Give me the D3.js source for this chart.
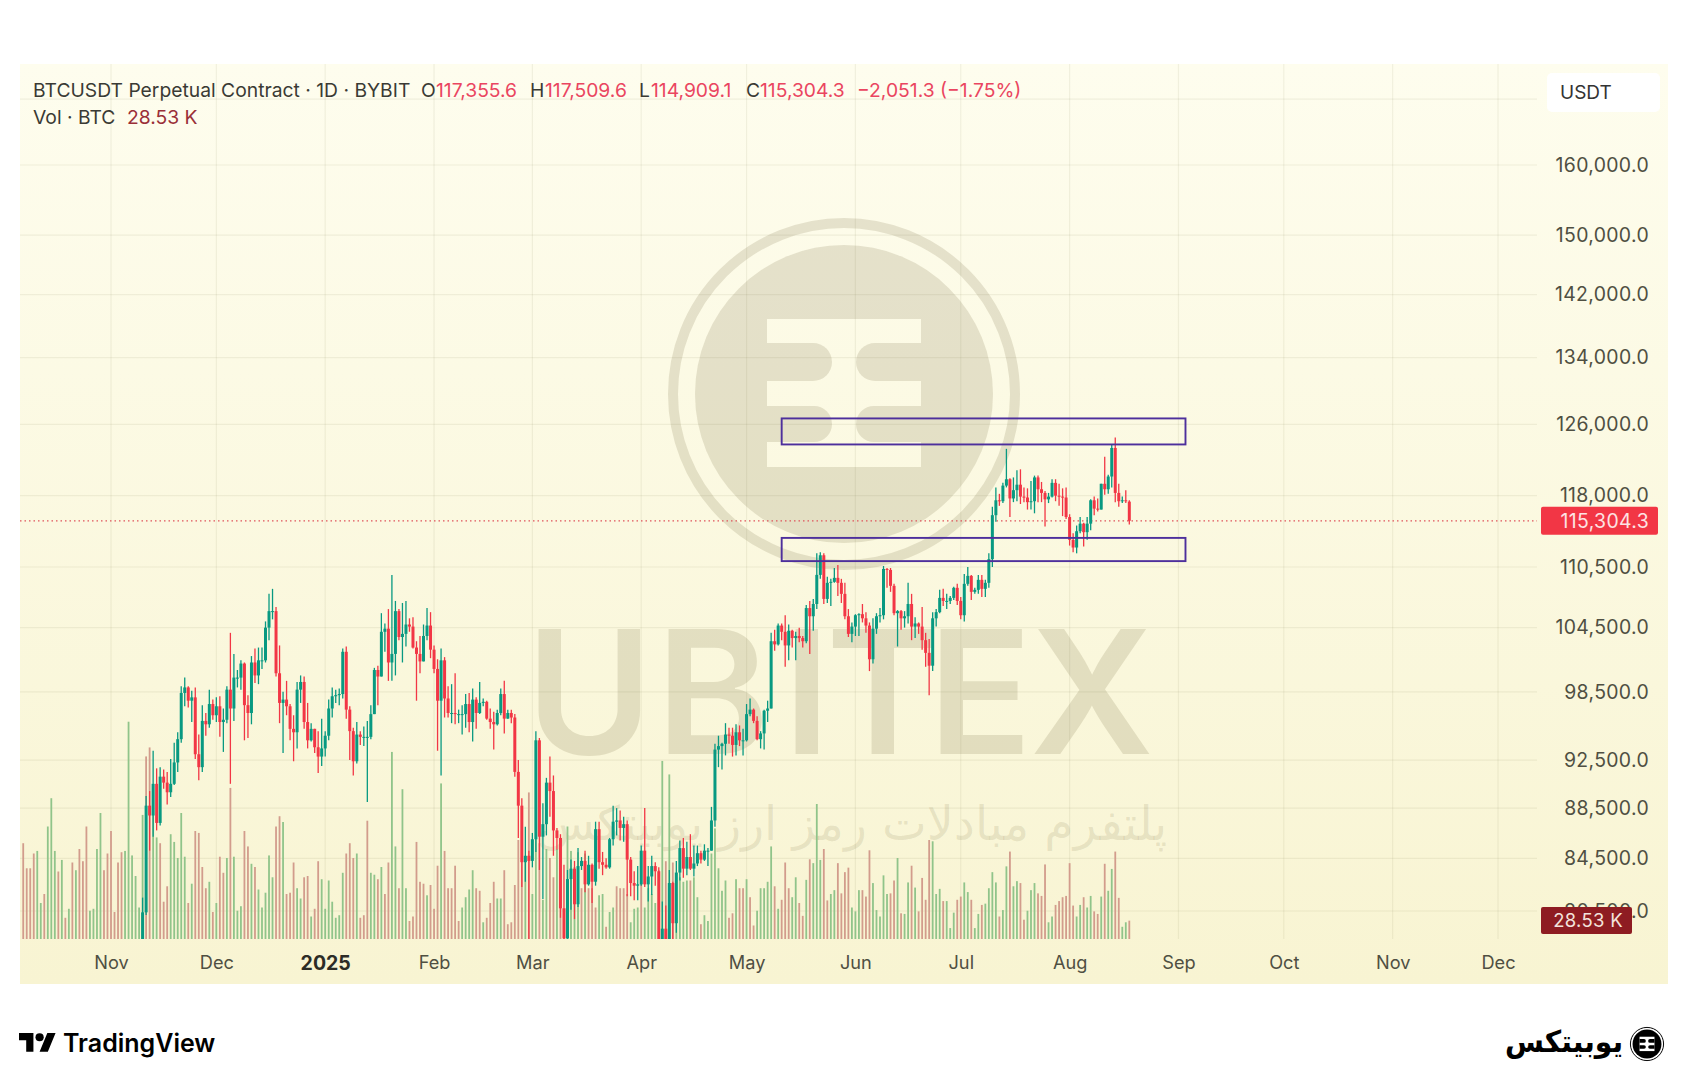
<!DOCTYPE html>
<html>
<head>
<meta charset="utf-8">
<script src="https://cdn.jsdelivr.net/npm/d3@7"></script>
<style>
html, body { margin: 0; padding: 0; background: #fff; }
svg { display: block; }
text { font-family: Inter, "Liberation Sans", sans-serif; }
</style>
</head>
<body>
<script>
// daily candles from 2024-11-10, prices in thousands of USDT
const firstCandle = new Date(Date.UTC(2024, 10, 10));
const opens = [
 76.7,80.4,88.7,87.9,90.5,87.3,91.1,90.6,89.8,90.5,92.3,94.3,98.4,98.9,97.7,98.0,93.0,91.9,95.9,95.6,97.4,
 96.4,97.2,95.8,96.0,98.7,97.0,99.8,99.8,101.1,97.3,96.6,101.2,100.0,101.4,101.4,104.5,106.1,106.1,100.2,97.5,97.8,97.2,95.2,94.9,98.7,99.4,95.8,94.2,95.2,93.6,92.8,
 93.5,94.6,97.0,98.1,98.2,98.3,102.2,96.9,95.0,92.4,94.7,94.5,94.5,94.5,96.5,100.5,99.9,104.1,104.4,101.2,102.0,106.1,103.6,103.9,104.8,104.6,102.6,102.0,101.3,103.7,104.7,
 102.4,100.6,97.7,101.4,97.9,96.6,96.6,96.5,96.5,96.5,97.4,95.8,97.8,96.6,97.5,97.6,96.1,95.8,95.6,96.6,98.3,96.1,96.6,96.2,91.5,88.7,84.2,84.7,
 84.3,86.0,94.2,86.2,87.2,90.6,89.9,86.7,86.1,80.7,78.5,82.9,83.7,81.0,83.9,84.3,82.5,84.0,82.7,86.8,84.2,84.0,83.8,86.0,87.4,87.5,86.9,87.2,84.4,82.6,82.4,
 82.5,85.1,82.5,83.1,83.9,83.5,78.4,79.2,76.3,82.6,79.6,83.4,85.3,83.7,84.6,83.7,84.1,84.9,84.4,85.1,85.1,87.5,93.4,93.7,93.9,94.7,94.6,93.8,94.9,94.2,
 94.2,96.5,96.9,95.9,94.3,94.8,96.8,97.0,103.2,102.9,104.7,104.1,102.8,104.2,103.5,103.7,103.5,103.2,106.4,105.6,106.8,109.7,111.7,107.3,108.9,109.0,109.4,108.9,107.8,105.6,103.9,
 104.6,105.7,105.8,105.4,104.7,101.5,104.4,105.6,105.7,110.3,110.2,108.6,105.9,106.1,105.4,105.6,106.8,104.6,104.9,104.6,103.3,102.1,100.9,105.4,106.0,107.4,107.1,107.1,107.4,108.4,
 107.1,105.7,108.8,109.6,108.0,108.2,109.2,108.3,108.9,111.3,115.9,117.5,117.4,119.1,119.8,117.7,118.6,119.2,117.9,117.8,117.3,117.4,120.0,118.7,118.3,117.6,117.9,119.4,118.0,117.9,117.8,
 115.7,113.3,112.5,114.2,115.0,114.1,115.0,117.5,116.6,116.5,119.3,118.7,120.1,123.3,118.3,117.4,117.5,117.356];
const highs = [
 81.5,89.5,89.9,93.3,91.8,91.9,91.7,91.5,92.6,94.0,94.9,99.0,99.8,99.0,98.6,98.9,94.7,97.3,96.6,98.7,97.8,
 98.0,98.1,97.0,99.0,104.0,102.0,100.5,101.4,101.2,98.2,101.8,102.5,102.6,102.6,105.1,107.8,108.3,106.5,102.8,98.5,99.5,97.4,96.4,99.4,100.0,99.9,97.5,95.7,95.2,95.0,96.1,
 95.0,97.8,98.9,98.7,98.8,102.5,102.7,97.2,95.3,95.8,95.0,95.4,95.9,97.3,100.7,100.9,105.9,104.9,106.3,109.7,107.1,106.3,106.9,107.1,105.4,105.5,103.2,103.7,104.8,106.4,106.0,
 102.8,101.5,102.5,101.7,99.0,99.2,100.2,96.9,97.3,98.3,98.4,98.8,98.0,99.4,97.9,97.7,97.0,96.7,96.9,98.8,99.5,96.9,96.9,96.5,92.5,89.3,87.0,85.1,
 86.5,95.0,94.4,88.9,91.0,92.8,91.2,86.9,86.4,84.0,83.6,84.4,84.3,85.3,84.6,85.1,84.7,84.1,87.4,87.4,85.0,84.5,86.1,88.7,88.5,88.3,87.8,87.5,84.6,83.5,83.9,
 85.5,88.5,83.9,84.7,84.2,83.8,81.2,80.9,83.6,82.7,84.3,85.9,86.1,85.8,86.4,85.5,85.5,85.1,85.6,85.3,88.6,93.9,94.6,94.0,95.7,95.3,95.3,95.6,95.5,95.2,
 97.4,97.9,97.0,96.3,95.0,96.9,97.7,104.0,104.3,104.9,104.9,105.7,104.8,104.3,104.1,104.5,103.7,106.7,107.1,107.3,111.9,112.0,111.9,109.5,109.3,110.4,110.7,109.3,108.9,106.3,105.0,
 105.8,105.9,106.8,106.0,105.0,105.4,105.9,106.4,110.6,110.4,110.4,108.8,106.2,106.2,106.1,108.9,107.8,105.5,105.0,106.5,104.0,103.4,106.0,106.3,108.2,108.3,107.8,107.6,108.5,108.8,
 107.5,109.8,110.5,109.7,108.4,109.7,109.7,109.2,111.9,116.8,118.9,118.2,119.4,123.2,119.9,120.0,120.8,120.9,118.9,118.8,119.6,120.2,120.2,119.5,118.5,118.3,119.8,119.8,119.3,118.8,118.9,
 116.0,114.0,114.8,115.7,115.1,115.7,117.6,117.9,117.7,119.3,122.3,120.3,123.7,124.5,119.3,117.9,118.6,117.51];
const lows = [
 76.5,80.2,85.1,86.2,86.7,87.1,90.1,88.8,89.4,90.4,91.5,94.0,97.2,97.1,95.8,92.6,90.8,91.5,94.6,95.3,96.0,
 95.8,94.5,93.2,95.7,90.5,95.9,98.9,98.7,94.2,94.4,95.6,99.3,99.2,100.6,101.2,103.3,105.3,99.9,95.7,93.1,96.4,94.2,92.4,93.5,97.5,95.2,93.5,94.1,93.1,91.4,92.0,
 92.8,94.2,96.2,97.5,97.3,97.9,96.1,92.5,91.2,92.2,93.8,93.7,89.0,94.3,96.5,97.3,99.9,102.2,99.5,99.5,100.0,103.3,101.2,102.7,104.1,102.5,97.7,100.2,101.3,103.3,101.6,
 100.2,93.3,91.2,96.2,96.2,95.7,95.6,95.7,94.7,95.3,94.9,94.1,95.2,96.5,97.2,96.0,95.2,93.4,95.5,96.4,94.8,96.1,95.7,91.1,86.1,82.3,82.7,78.2,
 83.8,85.0,83.6,81.4,86.3,87.8,84.7,85.2,80.0,77.5,76.6,80.6,79.9,80.8,83.6,81.9,82.4,81.1,82.4,83.7,83.2,83.7,83.7,85.5,86.3,85.9,85.8,81.6,81.6,81.3,81.3,
 82.4,82.3,81.2,81.7,82.4,77.1,74.4,76.2,74.6,78.4,78.9,82.8,83.0,83.2,83.6,83.1,83.9,84.1,84.3,83.9,85.1,87.0,91.9,91.7,92.9,93.9,92.8,92.9,93.7,92.9,
 94.1,96.3,95.7,94.2,93.5,93.4,95.8,97.0,102.3,102.8,103.3,100.8,101.4,102.6,101.4,103.1,102.6,103.0,102.0,104.2,106.3,109.3,106.8,106.9,106.6,108.9,107.6,106.9,105.3,103.6,103.1,
 103.7,103.7,105.0,104.0,100.4,101.1,103.9,105.0,105.3,108.4,108.0,105.7,102.7,104.3,104.5,104.9,103.3,103.5,103.9,102.4,100.8,98.2,100.4,104.6,105.9,106.6,106.3,106.8,107.2,106.7,
 105.3,105.1,108.6,107.2,107.8,107.8,107.5,107.5,108.4,110.5,115.2,116.9,117.2,118.9,115.7,117.3,117.4,117.1,117.3,116.5,116.5,116.1,117.3,117.3,114.7,117.2,117.8,117.4,116.9,115.8,115.5,
 112.7,112.0,111.9,114.0,112.6,113.3,114.3,115.9,116.3,116.5,118.1,118.2,118.9,117.3,116.8,117.2,117.2,114.909];
const closes = [
 80.4,88.7,87.9,90.5,87.3,91.1,90.6,89.8,90.5,92.3,94.3,98.4,98.9,97.7,98.0,93.0,91.9,95.9,95.6,97.4,96.4,
 97.2,95.8,96.0,98.7,97.0,99.8,99.8,101.1,97.3,96.6,101.2,100.0,101.4,101.4,104.5,106.1,106.1,100.2,97.5,97.8,97.2,95.2,94.9,98.7,99.4,95.8,94.2,95.2,93.6,92.8,93.5,
 94.6,97.0,98.1,98.2,98.3,102.2,96.9,95.0,92.4,94.7,94.5,94.5,94.5,96.5,100.5,99.9,104.1,104.4,101.2,102.0,106.1,103.6,103.9,104.8,104.6,102.6,102.0,101.3,103.7,104.7,102.4,
 100.6,97.7,101.4,97.9,96.6,96.6,96.5,96.5,96.5,97.4,95.8,97.8,96.6,97.5,97.6,96.1,95.8,95.6,96.6,98.3,96.1,96.6,96.2,91.5,88.7,84.2,84.7,84.3,
 86.0,94.2,86.2,87.2,90.6,89.9,86.7,86.1,80.7,78.5,82.9,83.7,81.0,83.9,84.3,82.5,84.0,82.7,86.8,84.2,84.0,83.8,86.0,87.4,87.5,86.9,87.2,84.4,82.6,82.4,82.5,
 85.1,82.5,83.1,83.9,83.5,78.4,79.2,76.3,82.6,79.6,83.4,85.3,83.7,84.6,83.7,84.1,84.9,84.4,85.1,85.1,87.5,93.4,93.7,93.9,94.7,94.6,93.8,94.9,94.2,94.2,
 96.5,96.9,95.9,94.3,94.8,96.8,97.0,103.2,102.9,104.7,104.1,102.8,104.2,103.5,103.7,103.5,103.2,106.4,105.6,106.8,109.7,111.7,107.3,108.9,109.0,109.4,108.9,107.8,105.6,103.9,104.6,
 105.7,105.8,105.4,104.7,101.5,104.4,105.6,105.7,110.3,110.2,108.6,105.9,106.1,105.4,105.6,106.8,104.6,104.9,104.6,103.3,102.1,100.9,105.4,106.0,107.4,107.1,107.1,107.4,108.4,107.1,
 105.7,108.8,109.6,108.0,108.2,109.2,108.3,108.9,111.3,115.9,117.5,117.4,119.1,119.8,117.7,118.6,119.2,117.9,117.8,117.3,117.4,120.0,118.7,118.3,117.6,117.9,119.4,118.0,117.9,117.8,115.7,
 113.3,112.5,114.2,115.0,114.1,115.0,117.5,116.6,116.5,119.3,118.7,120.1,123.3,118.3,117.4,117.5,117.4,115.304];

// daily volume from 2024-10-07, thousands of BTC, u = green bar, d = red bar
const firstVolume = new Date(Date.UTC(2024, 9, 7));
const volumes = [
 149,110,110,133,137,56,70,175,219,137,105,123,33,47,119,107,140,121,175,44,47,140,196,107,133,168,42,119,135,137,338,130,98,49,193,284,298,233,158,149,
 58,82,163,151,126,196,128,56,86,168,165,112,79,89,42,56,128,103,126,235,128,44,51,168,144,117,112,77,49,72,130,96,175,191,182,70,72,119,79,63,96,98,35,47,121,93,47,91,58,33,37,103,133,149,126,133,33,37,184,103,100,93,112,70,119,291,144,79,233,79,28,35,151,
 89,86,68,84,47,114,242,137,79,79,114,28,49,65,77,107,79,75,26,33,56,89,63,63,107,23,26,84,154,168,121,228,70,158,149,61,140,126,96,140,144,44,175,137,112,135,79,133,79,79,49,68,70,19,42,49,82,79,79,70,26,47,49,133,49,79,70,56,107,277,121,256,119,70,96,89,91,91,96,65,23,37,28,133,172,110,75,91,33,40,93,79,79,93,65,21,44,79,79,89,144,82,47,61,119,79,65,96,56,
 36,92,124,118,210,123,140,60,70,76,118,71,104,111,49,43,76,76,66,138,87,45,35,99,70,71,91,126,40,39,88,114,80,43,95,61,154,152,70,78,59,59,17,41,61,66,88,73,61,17,39,53,55,79,104,88,35,45,113,136,82,90,87,30,44,76,87,71,67,116,26,35,53,59,65,67,118,52,35,53,65,49,67,43,39,66,117,75,109,136,64,19,26,28.53];
const volumeDirs = ("dddduuduuu" + "dudududddu" + "uuuddddddu" + "uuuuudduud" + "dduuuuudud" + "dddududdud" + "uuudduduuu" + "uudduddduu" + "ddudduuuuu" + "uudddudddu" + "ududduuduu"
 + "dddddudddu" + "ddddduuuud" + "duddduuddd" + "ddduduuduu" + "ddudduuuud" + "uddduuduud" + "ddduuuduuu" + "udududuuuu" + "duuduuuuuu" + "uddudduddu" + "uuuududddu"
 + "udduduuudd" + "uudddduuud" + "dduuuuuddu" + "duududdddu" + "uuduuudduu" + "duuduuuudu" + "uduudduuud" + "dduudddddd" + "uuduuddudu" + "udduud").split("");

const priceTicks = [160000, 150000, 142000, 134000, 126000, 118000, 110500, 104500, 98500, 92500, 88500, 84500, 80500];
const extraGridPrices = [170000];
const monthTicks = [[2024,10],[2024,11],[2025,0],[2025,1],[2025,2],[2025,3],[2025,4],[2025,5],[2025,6],[2025,7],[2025,8],[2025,9],[2025,10],[2025,11]].map(d => new Date(Date.UTC(d[0], d[1], 1)));
const monthLabels = ["Nov", "Dec", "2025", "Feb", "Mar", "Apr", "May", "Jun", "Jul", "Aug", "Sep", "Oct", "Nov", "Dec"];

// drawn zones: from/to date, upper/lower price
const zoneDates = [new Date(Date.UTC(2025, 4, 11)), new Date(Date.UTC(2025, 8, 3))];
const zonePrices = [[126700, 123700], [113500, 111100]];

const lastPrice = 115304.3;
const lastVolumeLabel = "28.53 K";

const svg = d3.select("body").append("svg").attr("width", 1688).attr("height", 1080);
const defs = svg.append("defs");

const xScale = d3.scaleUtc().domain([monthTicks[0], monthTicks[13]]).range([111, 1498]);
const yScale = d3.scaleLog().domain([160000, 80500]).range([165, 911]);
const volScale = d3.scaleLinear().domain([0, 350]).range([939, 714]);

const gradient = defs.append("linearGradient").attr("id", "paneBg").attr("x1", 0).attr("x2", 0).attr("y1", 0).attr("y2", 1);
gradient.append("stop").attr("offset", "0%").attr("stop-color", "#fefdee");
gradient.append("stop").attr("offset", "100%").attr("stop-color", "#f8f4d2");
defs.append("clipPath").attr("id", "pane").append("rect").attr("x", 20).attr("y", 64).attr("width", 1517).attr("height", 875);

svg.append("rect").attr("x", 20).attr("y", 64).attr("width", 1648).attr("height", 920).attr("fill", "url(#paneBg)");

// round emblem, used for the watermark and the small footer logo
function drawEmblem(id, cx, cy, k, color) {
    const lobe = (x0, x1, y0, y1, side) => {
        const r = (y1 - y0) / 2;
        return side < 0
            ? `M${x0},${y0}H${x1 - r}A${r},${r} 0 0 1 ${x1 - r},${y1}H${x0}Z`
            : `M${x1},${y0}H${x0 + r}A${r},${r} 0 0 0 ${x0 + r},${y1}H${x1}Z`;
    };
    const mask = defs.append("mask").attr("id", id).attr("maskUnits", "userSpaceOnUse")
        .attr("x", -200).attr("y", -200).attr("width", 400).attr("height", 400);
    mask.append("rect").attr("x", -200).attr("y", -200).attr("width", 400).attr("height", 400).attr("fill", "#fff");
    mask.append("rect").attr("x", -77).attr("y", -75).attr("width", 154).attr("height", 148).attr("fill", "#000");
    [[-51, -13], [12, 48]].forEach(b => {
        mask.append("path").attr("d", lobe(-77, -12, b[0], b[1], -1)).attr("fill", "#fff");
        mask.append("path").attr("d", lobe(12, 77, b[0], b[1], 1)).attr("fill", "#fff");
    });
    const g = svg.append("g").attr("transform", `translate(${cx},${cy}) scale(${k})`);
    g.append("circle").attr("r", 171).attr("fill", "none").attr("stroke", color).attr("stroke-width", 10);
    g.append("circle").attr("r", 149).attr("fill", color).attr("mask", `url(#${id})`);
}

// watermark
const markColor = "rgba(105,95,50,0.16)";
drawEmblem("wm", 844, 394, 1, markColor);
svg.append("text").attr("class", "wm-name")
    .attr("x", "526 656 783 826 928 1030").attr("y", 754)
    .attr("font-size", 172).attr("font-weight", 600).attr("fill", markColor)
    .text("UBITEX");
svg.append("text")
    .attr("x", 852).attr("y", 840).attr("text-anchor", "middle")
    .attr("font-size", 47.5)
    .style("font-family", "'DejaVu Sans'")
    .attr("fill", "rgba(105,95,50,0.13)")
    .text("پلتفرم مبادلات رمز ارز یوبیتکس");

// grid
const gridColor = "rgba(110,100,60,0.085)";
svg.append("g").selectAll("line").data(monthTicks).join("line")
    .attr("x1", d => xScale(d)).attr("x2", d => xScale(d))
    .attr("y1", 64).attr("y2", 939)
    .attr("stroke", gridColor).attr("stroke-width", 1.2);
svg.append("g").selectAll("line").data(priceTicks.concat(extraGridPrices)).join("line")
    .attr("x1", 20).attr("x2", 1537)
    .attr("y1", d => yScale(d)).attr("y2", d => yScale(d))
    .attr("stroke", gridColor).attr("stroke-width", 1.2);

// volume bars
const volDate = i => d3.utcDay.offset(firstVolume, i);
svg.append("g").selectAll("rect").data(volumes).join("rect")
    .attr("x", (d, i) => xScale(volDate(i)) - 0.9)
    .attr("width", 1.8)
    .attr("y", d => volScale(d))
    .attr("height", d => volScale(0) - volScale(d))
    .attr("fill", (d, i) => volumeDirs[i] == "u" ? "#90c48a" : "#d29c8c");

// last price line
svg.append("line").attr("x1", 20).attr("x2", 1537)
    .attr("y1", yScale(lastPrice)).attr("y2", yScale(lastPrice))
    .attr("stroke", "#e0525a").attr("stroke-width", 1.2).attr("stroke-dasharray", "1.5 3");

// candles
const candles = d3.range(opens.length).map(i => ({
    date: d3.utcDay.offset(firstCandle, i), o: opens[i] * 1000, h: highs[i] * 1000, l: lows[i] * 1000, c: closes[i] * 1000
}));
const candleColor = d => d.c >= d.o ? "#089981" : "#f23645";
const candleG = svg.append("g").attr("clip-path", "url(#pane)");
candleG.selectAll("line").data(candles).join("line")
    .attr("x1", d => xScale(d.date)).attr("x2", d => xScale(d.date))
    .attr("y1", d => yScale(d.h)).attr("y2", d => yScale(d.l))
    .attr("stroke", candleColor).attr("stroke-width", 1.3);
candleG.selectAll("rect").data(candles).join("rect")
    .attr("x", d => xScale(d.date) - 1.5)
    .attr("width", 3)
    .attr("y", d => yScale(Math.max(d.o, d.c)))
    .attr("height", d => Math.max(1, Math.abs(yScale(d.o) - yScale(d.c))))
    .attr("fill", candleColor);

// zones
svg.append("g").selectAll("rect").data(zonePrices).join("rect")
    .attr("x", xScale(zoneDates[0]))
    .attr("width", xScale(zoneDates[1]) - xScale(zoneDates[0]))
    .attr("y", d => yScale(d[0]))
    .attr("height", d => yScale(d[1]) - yScale(d[0]))
    .attr("fill", "none").attr("stroke", "#4d2f9c").attr("stroke-width", 1.9);

// axes
const textColor = "#4f4f42";
const yAxis = svg.append("g").attr("transform", "translate(1649,0)")
    .call(d3.axisRight(yScale).tickValues(priceTicks).tickFormat(d3.format(",.1f")).tickSize(0));
yAxis.select(".domain").remove();
yAxis.selectAll("text").attr("x", 0).attr("text-anchor", "end")
    .style("font-size", "19.4px").style("letter-spacing", "0.35px").attr("fill", textColor);
const xAxis = svg.append("g").attr("transform", "translate(0,953)")
    .call(d3.axisBottom(xScale).tickValues(monthTicks).tickFormat((d, i) => monthLabels[i]).tickSize(0));
xAxis.select(".domain").remove();
xAxis.selectAll("text").style("font-size", "18.2px").attr("fill", textColor)
    .filter(d => d.getUTCMonth() == 0).style("font-weight", 700).style("font-size", "19.5px").attr("fill", "#2c2c26");

// USDT box
svg.append("rect").attr("x", 1547).attr("y", 73).attr("width", 113).attr("height", 39).attr("rx", 5).attr("fill", "#fff");
svg.append("text").attr("x", 1560).attr("y", 99).attr("font-size", 19).attr("fill", "#333").text("USDT");

// price and volume labels
svg.append("rect").attr("x", 1541).attr("y", yScale(lastPrice) - 14).attr("width", 117).attr("height", 28).attr("rx", 2).attr("fill", "#f23645");
svg.append("text").attr("x", 1649).attr("y", yScale(lastPrice) + 7).attr("text-anchor", "end")
    .attr("font-size", 19.4).style("letter-spacing", "0.35px").attr("fill", "#fde3e3").text(d3.format(",.1f")(lastPrice));
svg.append("rect").attr("x", 1541).attr("y", 907).attr("width", 91).attr("height", 27).attr("rx", 2).attr("fill", "#8e1c22");
svg.append("text").attr("x", 1623).attr("y", 927).attr("text-anchor", "end")
    .attr("font-size", 18.5).style("letter-spacing", "0.3px").attr("fill", "#f3e3dc").text(lastVolumeLabel);

// header legend
const red = "#ea4560";
const dark = "#3a3a34";
const legend = [
    [33, 97, "BTCUSDT Perpetual Contract · 1D · BYBIT", dark],
    [421, 97, "O", dark], [436, 97, "117,355.6", red],
    [530, 97, "H", dark], [545, 97, "117,509.6", red],
    [639, 97, "L", dark], [651, 97, "114,909.1", red],
    [746, 97, "C", dark], [760, 97, "115,304.3", red],
    [857, 97, "−2,051.3 (−1.75%)", red],
    [33, 124, "Vol · BTC", dark], [127, 124, "28.53 K", "#9a2f38"]
];
svg.append("g").selectAll("text").data(legend).join("text")
    .attr("x", d => d[0]).attr("y", d => d[1]).attr("font-size", 19.3).attr("fill", d => d[3]).text(d => d[2]);

// footer
svg.append("path").attr("transform", "translate(19,1029) scale(1.03)")
    .attr("d", "M14 22H7V11H0V4h14v18zM28 22h-8l7.5-18h8L28 22z").attr("fill", "#000");
svg.append("circle").attr("cx", 19 + 20 * 1.03).attr("cy", 1029 + 8 * 1.03).attr("r", 4.1).attr("fill", "#000");
svg.append("text").attr("x", 63).attr("y", 1052).attr("font-size", 25).attr("font-weight", 600).attr("fill", "#000").text("TradingView");

drawEmblem("logo", 1647, 1044, 0.097, "#000");
svg.append("text").attr("transform", "translate(1623,1052) scale(0.94,1)").attr("text-anchor", "start").attr("direction", "rtl")
    .attr("font-size", 30).attr("font-weight", 700).style("font-family", "'DejaVu Sans'").attr("fill", "#000").text("یوبیتکس");
</script>
</body>
</html>
